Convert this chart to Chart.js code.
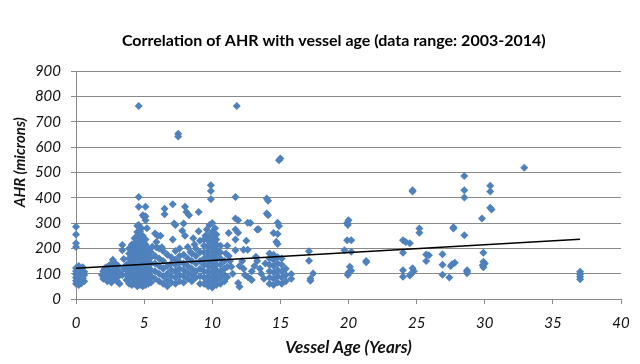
<!DOCTYPE html>
<html>
<head>
<meta charset="utf-8">
<script src="https://cdn.jsdelivr.net/npm/chart.js@4/dist/chart.umd.min.js"></script>
<style>
  html, body { margin: 0; padding: 0; background: #fff; }
  #wrap { width: 640px; height: 364px; }
</style>
</head>
<body>
<div id="wrap"><canvas id="ahrChart"></canvas></div>
<script>
// ----- Data: [vessel age (years), AHR (microns)] -----

const newBuilds = [
  [0,285],[0,255],[0,220],[0,205],
  [0,60],[0,72],[0,85],[0,98],[0,110],[0,122],[0.2,55],[0.2,68],[0.2,80],[0.2,93],
  [0.2,106],[0.2,118],[0.2,130],[0.4,62],[0.4,75],[0.4,88],[0.4,100],[0.4,113],
  [0.5,125],[0.6,70],[0.6,95],[0.6,108],[0.5,82]
];

const ages2to3 = [
  [1.9,95],[2.0,110],[2.0,80],[2.2,125],[2.2,95],[2.3,70],[2.3,105],[2.4,130],
  [2.5,85],[2.5,115],[2.6,140],[2.6,65],[2.7,155],[2.7,100],[2.8,120],[2.8,80],
  [2.9,140],[2.9,95],[3.0,110],[3.0,70],[3.1,130],[3.1,88],[3.2,105],[3.2,60],
  [2.4,92],[2.1,120],[3.4,213],[3.4,193],[3.5,158],[3.5,120],[3.4,95]
];

const ages4to5 = [
  [3.7,75],[3.7,95],[3.7,115],[3.7,135],
  [3.9,60],[3.9,80],[3.9,100],[3.9,120],[3.9,140],[3.9,160],[3.9,180],[3.9,200],
  [4.1,55],[4.1,75],[4.1,95],[4.1,115],[4.1,135],[4.1,155],[4.1,175],[4.1,195],[4.1,215],
  [4.3,60],[4.3,80],[4.3,100],[4.3,120],[4.3,140],[4.3,160],[4.3,180],[4.3,200],[4.3,220],[4.3,240],
  [4.5,50],[4.5,70],[4.5,90],[4.5,110],[4.5,130],[4.5,150],[4.5,170],[4.5,190],[4.5,210],[4.5,230],[4.5,250],
  [4.7,55],[4.7,75],[4.7,95],[4.7,115],[4.7,135],[4.7,155],[4.7,175],[4.7,195],[4.7,215],[4.7,235],
  [4.9,50],[4.9,70],[4.9,90],[4.9,110],[4.9,130],[4.9,150],[4.9,170],[4.9,190],[4.9,210],[4.9,230],[4.9,250],
  [5.1,55],[5.1,75],[5.1,95],[5.1,115],[5.1,135],[5.1,155],[5.1,175],[5.1,195],[5.1,215],[5.1,235],
  [5.3,60],[5.3,80],[5.3,100],[5.3,120],[5.3,140],[5.3,160],[5.3,180],[5.3,200],
  [5.5,65],[5.5,90],[5.5,115],[5.5,140],[5.5,165],[5.5,185],
  [4.6,763],[4.6,403],[4.6,364],[5.1,364],[4.9,331],[5.0,324],[5.1,311],[5.1,327],
  [4.6,292],[4.5,289],[4.8,280],[5.2,280],[4.5,265],[4.7,268]
];

const ages6to9 = [
  [7.5,653],[7.5,642],[6.5,357],[6.5,335],[7.1,374],[8.0,364],[8.1,344],[8.3,331],
  [9.0,344],[7.2,298],[7.3,292],[7.9,298],[9.0,268],[5.8,259],[6.0,250],[6.2,250],
  [7.1,235],[6.3,204],[5.9,204],[6.1,200],[6.4,190],[8.4,186],[5.6,206],[5.9,225],
  [8.0,250],[8.6,240],[8.7,215],[7.8,270],[9.1,230],
  [5.8,80],[5.8,110],[5.8,140],[5.8,170],
  [6.1,70],[6.1,100],[6.1,130],[6.1,160],
  [6.4,60],[6.4,90],[6.4,120],[6.4,150],
  [6.7,50],[6.7,75],[6.7,100],[6.7,130],[6.7,175],
  [7.0,65],[7.0,90],[7.0,115],[7.0,140],[7.0,165],
  [7.3,60],[7.3,85],[7.3,110],[7.3,135],[7.3,155],[7.3,190],
  [7.6,70],[7.6,95],[7.6,120],[7.6,145],[7.6,170],[7.6,200],
  [7.9,65],[7.9,90],[7.9,115],[7.9,140],[7.9,175],
  [8.2,80],[8.2,105],[8.2,130],[8.2,160],[8.2,205],
  [8.5,70],[8.5,95],[8.5,120],[8.5,150],[8.5,180],
  [8.8,85],[8.8,110],[8.8,140],[8.8,170],[8.8,200],
  [9.1,60],[9.1,90],[9.1,120],[9.1,150],[9.1,185]
];

const ages10to11 = [
  [9.9,449],[9.9,427],[9.9,394],[9.8,292],[10.0,300],[10.2,280],[9.6,275],[10.3,255],
  [9.5,250],[10.0,265],
  [9.4,60],[9.4,85],[9.4,110],[9.4,135],[9.4,160],[9.4,185],[9.4,210],[9.4,235],
  [9.7,50],[9.7,70],[9.7,90],[9.7,110],[9.7,130],[9.7,150],[9.7,170],[9.7,190],[9.7,210],[9.7,230],[9.7,250],
  [10.0,45],[10.0,65],[10.0,85],[10.0,105],[10.0,125],[10.0,145],[10.0,165],[10.0,185],[10.0,205],[10.0,225],[10.0,245],
  [10.3,55],[10.3,75],[10.3,95],[10.3,115],[10.3,135],[10.3,155],[10.3,175],[10.3,195],[10.3,215],[10.3,235],
  [10.6,60],[10.6,85],[10.6,110],[10.6,135],[10.6,160],[10.6,185],[10.6,210],
  [10.9,70],[10.9,95],[10.9,120],[10.9,150],[11.0,180],[11.1,210]
];

const ages12to16 = [
  [11.8,763],[11.7,403],[14.0,397],[14.1,388],[14.0,338],[14.1,331],[11.7,318],[11.9,311],
  [12.6,301],[14.8,301],[14.9,288],[11.2,261],[11.7,275],[11.9,262],[13.3,275],[14.5,261],
  [14.8,257],[11.7,235],[12.5,230],[14.7,226],[14.8,217],[11.7,193],[12.3,195],[12.6,195],
  [13.2,167],[15.0,555],[14.9,548],[12.8,300],[13.4,276],
  [11.1,127],[11.4,127],[11.1,87],[11.9,63],[12.0,48],[12.6,87],[12.8,80],[12.9,75],
  [12.4,95],[12.9,110],[13.1,130],[13.3,150],[12.2,150],[11.5,100],[11.3,150],[11.2,170],
  [13.6,100],[13.8,80],[13.5,120],[13.9,140],[12.0,130],[12.3,120],
  [14.2,60],[14.2,85],[14.2,110],[14.2,135],[14.2,160],[14.2,180],
  [14.5,55],[14.5,80],[14.5,105],[14.5,130],[14.5,155],[14.5,175],
  [14.8,65],[14.8,90],[14.8,115],[14.8,140],[14.8,165],
  [15.1,60],[15.1,85],[15.1,110],[15.1,135],[15.1,160],
  [15.4,70],[15.4,95],[15.4,120],[15.8,99],[15.8,80]
];

const olderVessels = [
  [17.1,189],[17.1,151],[17.4,101],[17.2,72],[17.2,80],
  [20.0,311],[19.9,300],[19.95,292],[19.9,232],[20.2,232],[19.7,193],[20.2,187],[20.1,127],
  [20.2,112],[19.95,95],[20.0,105],[21.3,150],[21.3,145],
  [24.7,430],[24.7,425],[24.0,232],[24.5,220],[24.2,225],[25.2,279],[25.2,262],[24.0,183],
  [24.0,114],[24.0,88],[24.7,121],[24.5,93],[24.6,100],[24.8,110],
  [25.7,176],[25.7,150],[25.9,173],[26.9,177],[26.9,135],[26.9,96],[27.4,85],[27.5,130],
  [27.6,137],[27.8,143],[27.7,279],[27.7,283],[28.5,486],[28.5,430],[28.5,401],[28.5,252],
  [28.7,114],[28.7,102],[28.7,108],[29.8,318],[29.9,183],[29.9,147],[30.0,140],[29.9,125],
  [29.85,133],[30.4,447],[30.4,425],[30.4,361],[30.5,354],[32.9,519],
  [37.0,108],[37.0,98],[37.0,88],[37.0,78]
];

// linear trend line end points
const trendAge = [0, 37];
const trendAhr = [121, 236];

const xTicks = [0, 5, 10, 15, 20, 25, 30, 35, 40];

// ----- Chart -----
const allPoints = [].concat(newBuilds, ages2to3, ages4to5, ages6to9, ages10to11, ages12to16, olderVessels)
  .map(p => ({ x: p[0], y: p[1] }));
const trendPoints = trendAge.map((a, i) => ({ x: a, y: trendAhr[i] }));

const axisGrey = '#8a8a8a';
const fontFam = 'Lato, "Noto Sans", sans-serif';
// leading no-break spaces nudge the labels to where the original has them
const nudge = n => '\u00a0'.repeat(n);
const chartTitle = nudge(12) + 'Correlation of AHR with vessel age (data range: 2003-2014)';
const yTitle = nudge(14) + 'AHR (microns)';

new Chart(document.getElementById('ahrChart'), {
  type: 'scatter',
  data: {
    datasets: [
      {
        type: 'line',
        label: 'Trend',
        data: trendPoints,
        borderColor: '#000',
        borderWidth: 1.5,
        pointRadius: 0,
        fill: false,
        order: 0
      },
      {
        label: 'AHR',
        data: allPoints,
        pointStyle: 'rectRot',
        pointRadius: 4,
        backgroundColor: '#4f81bd',
        borderColor: '#4f81bd',
        borderWidth: 0,
        clip: false,
        order: 1
      }
    ]
  },
  options: {
    responsive: true,
    maintainAspectRatio: false,
    animation: false,
    layout: { padding: { left: 0, right: 19, top: 0, bottom: 0 } },
    plugins: {
      legend: { display: false },
      tooltip: { enabled: false },
      title: {
        display: true,
        text: chartTitle,
        color: '#000',
        font: { family: fontFam, size: 16, weight: 'bold' },
        padding: { top: 31, bottom: 21 }
      }
    },
    scales: {
      x: {
        type: 'linear',
        min: 0,
        max: 40,
        afterBuildTicks: s => { s.ticks = xTicks.map(v => ({ value: v })); },
        afterFit: s => { s.height = 65; },
        border: { color: axisGrey, width: 1 },
        grid: { drawOnChartArea: false, drawTicks: true, tickLength: 5, color: axisGrey },
        ticks: {
          color: '#111',
          padding: 10,
          maxRotation: 0,
          font: { family: fontFam, size: 15, style: 'italic' }
        },
        title: {
          display: true,
          text: 'Vessel Age (Years)',
          color: '#111',
          padding: { top: 0, bottom: 6 },
          font: { family: fontFam, size: 17, style: 'italic', weight: 'bold' }
        }
      },
      y: {
        min: 0,
        max: 900,
        afterFit: s => { s.width = 76; },
        border: { color: axisGrey, width: 1 },
        grid: { color: axisGrey, drawTicks: true, tickLength: 5 },
        ticks: {
          stepSize: 100,
          color: '#111',
          padding: 10,
          font: { family: fontFam, size: 15, style: 'italic' }
        },
        title: {
          display: true,
          text: yTitle,
          color: '#111',
          padding: { top: 11, bottom: 0 },
          font: { family: fontFam, size: 15, style: 'italic', weight: 'bold' }
        }
      }
    }
  }
});
</script>
</body>
</html>
